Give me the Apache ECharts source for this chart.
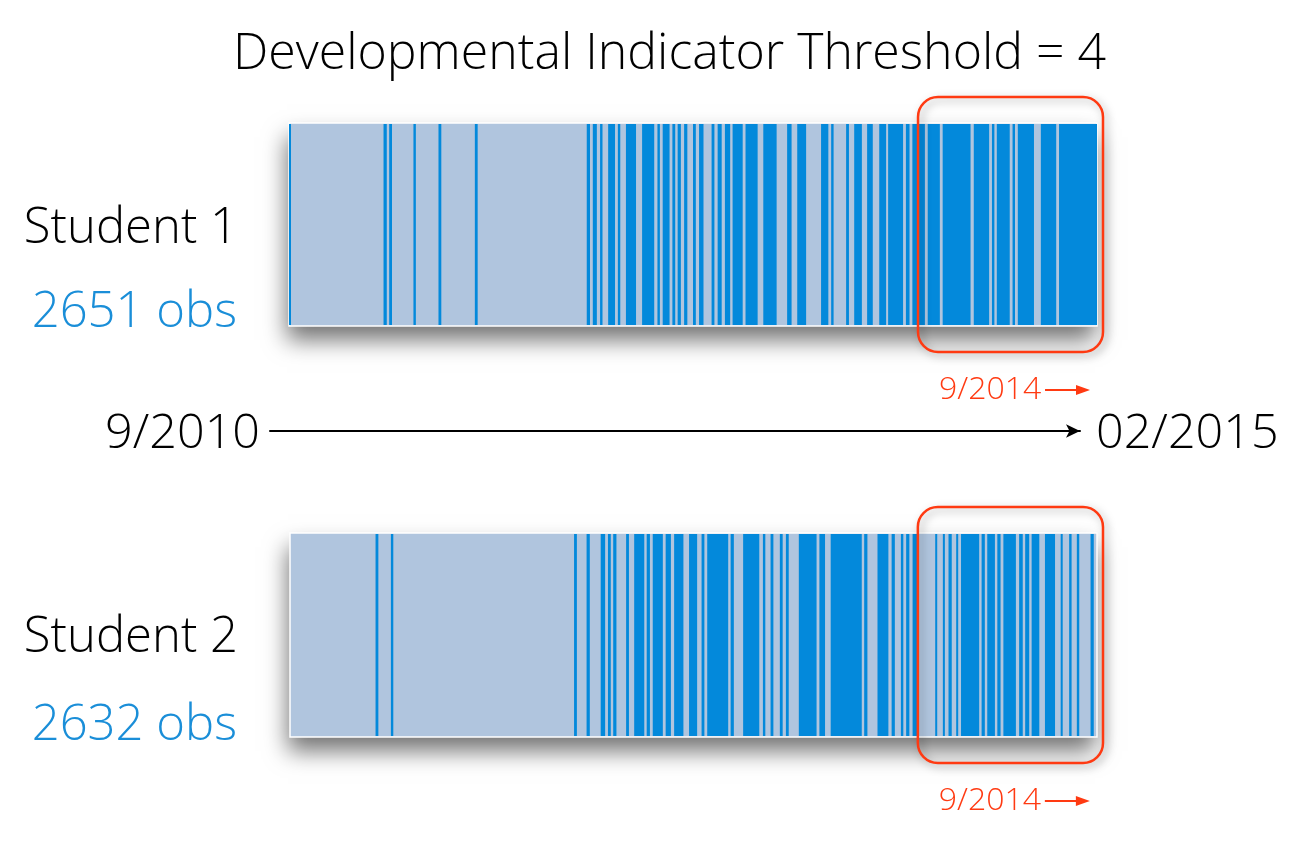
<!DOCTYPE html>
<html><head><meta charset="utf-8">
<script src="https://cdn.jsdelivr.net/npm/echarts@6/dist/echarts.min.js"></script>
<style>html,body{margin:0;padding:0;background:#fff}#c{width:1290px;height:868px}</style>
</head><body><div id="c"></div>
<script>
// ---- data (positions in % of each student's observation record) ----
const titleText = 'Developmental Indicator Threshold = 4';
const students = ['Student 1', 'Student 2'];
const obsCounts = [2651, 2632];
const timelineLabels = ['9/2010', '02/2015'];
const markerLabel = '9/2014';
const sep2014Pos = [77.85, 77.8];
// runs of observations above threshold: [start%, end%]
const student1Runs = [
  [0,0.25],[11.7,12.1],[12.4,12.75],[15.4,15.7],[18.5,18.85],[23.0,23.35],
  [36.85,37.25],[37.6,38.1],[38.5,38.8],[39.5,40.35],[40.7,41.0],[41.7,42.95],
  [43.7,45.2],[45.6,45.9],[46.25,47.1],[47.45,47.8],[48.1,48.5],[48.9,49.3],
  [50.0,50.35],[50.75,51.3],[52.3,52.65],[53.05,53.55],[53.95,54.6],[54.9,56.15],
  [56.5,58.0],[58.7,60.35],[61.65,62.2],[62.9,64.0],[65.85,66.75],[67.1,67.4],
  [68.95,69.3],[69.95,70.9],[71.55,72.25],[73.05,73.9],[74.15,76.0],[76.35,76.8],
  [77.15,78.7],[79.05,80.55],[80.9,84.35],[84.75,86.65],[87.0,87.3],[87.6,89.2],
  [89.55,89.85],[90.2,92.2],[93.05,94.95],[95.3,100]
];
const student2Runs = [
  [10.6,10.95],[12.5,12.8],[35.2,35.55],[36.75,37.15],[38.5,39.05],[39.4,39.75],
  [40.05,40.45],[41.65,42.0],[42.65,43.9],[44.2,44.6],[44.95,46.2],[46.55,47.2],
  [47.6,48.75],[49.45,50.45],[51.0,51.35],[51.7,54.3],[54.6,55.0],[56.15,58.15],
  [58.6,58.9],[59.55,59.9],[60.7,61.05],[61.45,61.8],[63.05,65.25],[65.6,66.3],
  [67.0,70.85],[71.15,71.55],[72.8,74.15],[74.55,74.95],[75.7,76.0],[76.35,76.75],
  [77.15,77.75],[79.95,80.2],[80.9,81.15],[81.6,82.0],[82.55,82.8],[83.15,85.4],
  [85.7,86.1],[86.4,87.35],[87.65,88.05],[88.4,89.95],[90.35,90.8],[91.1,91.6],
  [91.9,92.85],[93.55,94.8],[95.5,95.75],[96.55,96.85],[97.5,97.8],[99.2,99.6]
];
const runsByStudent = [student1Runs, student2Runs];

// ---- styles ----
const LIGHT = '#b0c5de', DARK = '#0389db', RED = '#ff3a12', BLUE_TXT = '#1a8ed8';
const FONT = '"Open Sans", "Liberation Sans", Arial, sans-serif';

const chart = echarts.init(document.getElementById('c'));

const grids = [
  {left: 289, width: 808, top: 123, height: 203},
  {left: 290, width: 807, top: 533, height: 204}
];

function bgRender(params, api) {
  const cs = params.coordSys;
  const x0 = api.coord([api.value(0), 0])[0];
  const x1 = api.coord([api.value(1), 0])[0];
  const shape = {x: x0, y: cs.y, width: x1 - x0, height: cs.height};
  return {type: 'group', children: [
    {type: 'rect', shape: shape,
      style: {fill: LIGHT, shadowBlur: 22, shadowOffsetY: 14, shadowOffsetX: -2, shadowColor: 'rgba(0,0,0,0.55)'}},
    {type: 'rect', shape: shape, style: {fill: 'none', stroke: '#ffffff', lineWidth: 1.5}, z2: 10}
  ]};
}
function runRender(params, api) {
  const cs = params.coordSys;
  const x0 = api.coord([api.value(0), 0])[0];
  const x1 = api.coord([api.value(1), 0])[0];
  return {type: 'rect', shape: {x: x0, y: cs.y + 1, width: Math.max(x1 - x0, 1.5), height: cs.height - 2},
    style: {fill: DARK}};
}
function boxRender(params, api) {
  const cs = params.coordSys;
  const x0 = api.coord([api.value(0), 0])[0];
  const x1 = api.coord([api.value(1), 0])[0];
  const top = cs.y - 26, bottom = cs.y + cs.height + 26;
  const labelY = bottom + 38;
  return {type: 'group', children: [
    {type: 'rect', shape: {x: x0, y: top, width: x1 - x0 + 6, height: bottom - top, r: 20},
      style: {fill: 'none', stroke: RED, lineWidth: 2.5,
        shadowBlur: 8, shadowOffsetX: 3, shadowOffsetY: 3, shadowColor: 'rgba(0,0,0,0.35)'}},
    {type: 'text', style: {text: markerLabel, x: x0 + 21, y: labelY, fill: RED,
      font: '300 32px ' + FONT, textAlign: 'left', textVerticalAlign: 'middle'}},
    {type: 'line', shape: {x1: x0 + 127, y1: labelY, x2: x0 + 160, y2: labelY},
      style: {stroke: RED, lineWidth: 2}},
    {type: 'polygon', shape: {points: [[x0 + 172, labelY], [x0 + 158, labelY - 5], [x0 + 158, labelY + 5]]},
      style: {fill: RED}}
  ]};
}

const series = [];
runsByStudent.forEach((runs, i) => {
  series.push({type: 'custom', xAxisIndex: i, yAxisIndex: i, renderItem: bgRender,
    data: [[0, 100]], z: 1, silent: true});
  series.push({type: 'custom', xAxisIndex: i, yAxisIndex: i, renderItem: runRender,
    data: runs, z: 2, silent: true});
  series.push({type: 'custom', xAxisIndex: i, yAxisIndex: i, renderItem: boxRender,
    data: [[sep2014Pos[i], 100]], z: 3, silent: true, clip: false});
});

const labelCenters = [[228, 312], [637, 725]];
const graphics = [];
students.forEach((s, i) => {
  graphics.push({type: 'text', right: 1290 - 238, top: labelCenters[i][0] - 23,
    style: {text: s, fill: '#000', font: '300 49px ' + FONT}});
  graphics.push({type: 'text', right: 1290 - 237, top: labelCenters[i][1] - 23,
    style: {text: obsCounts[i] + ' obs', fill: BLUE_TXT, font: '300 49px ' + FONT}});
});
graphics.push({type: 'text', right: 1290 - 260, top: 410,
  style: {text: timelineLabels[0], fill: '#000', font: '300 48.5px ' + FONT}});
graphics.push({type: 'text', left: 1096, top: 410,
  style: {text: timelineLabels[1], fill: '#000', font: '300 48.5px ' + FONT}});

chart.setOption({
  animation: false,
  backgroundColor: '#ffffff',
  title: {text: titleText, left: 228, top: 25,
    textStyle: {fontFamily: FONT, fontWeight: 300, fontSize: 50, color: '#000'}},
  grid: [grids[0], grids[1], {left: 270, width: 810, top: 431, height: 1}],
  xAxis: [
    {type: 'value', gridIndex: 0, min: 0, max: 100, show: false},
    {type: 'value', gridIndex: 1, min: 0, max: 100, show: false},
    {type: 'value', gridIndex: 2, min: 0, max: 1, axisLine: {show: true, onZero: false,
      symbol: ['none', 'arrow'], symbolSize: [10, 14], lineStyle: {color: '#000', width: 2}},
      position: 'top', axisTick: {show: false}, axisLabel: {show: false}, splitLine: {show: false}}
  ],
  yAxis: [
    {type: 'value', gridIndex: 0, min: 0, max: 1, show: false},
    {type: 'value', gridIndex: 1, min: 0, max: 1, show: false},
    {type: 'value', gridIndex: 2, min: 0, max: 1, show: false}
  ],
  series: series,
  graphic: graphics
});
</script></body></html>
